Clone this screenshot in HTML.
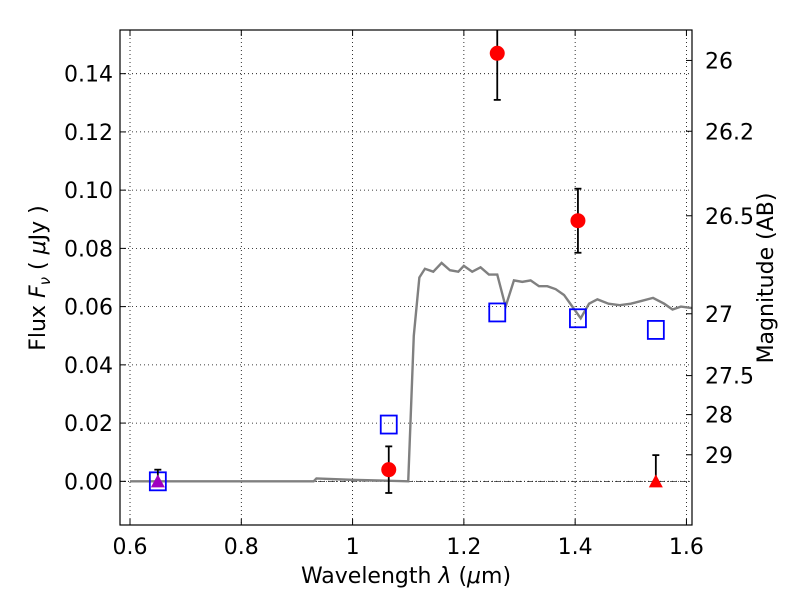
<!DOCTYPE html>
<html><head><meta charset="utf-8"><style>
body{margin:0;background:#fff;}
svg text{font-family:"DejaVu Sans","Liberation Sans",sans-serif;}
</style></head><body>
<svg id="chart" width="800" height="600" xmlns="http://www.w3.org/2000/svg">
<defs><clipPath id="pc"><rect x="120" y="30" width="572" height="495"/></clipPath></defs>
<g id="grid"></g>
<g id="marks" clip-path="url(#pc)"></g>
<rect x="120" y="30" width="572" height="495" fill="none" stroke="#000" stroke-width="1.2"/>
<g id="axes"></g>
<text x="406" y="583" font-size="22" text-anchor="middle">Wavelength  <tspan font-style="italic">λ</tspan> (<tspan font-style="italic">μ</tspan>m)</text>
<text transform="translate(45,278) rotate(-90)" font-size="22" text-anchor="middle">Flux  <tspan font-style="italic">F</tspan><tspan font-style="italic" font-size="15" dy="5">ν</tspan><tspan dy="-5">  ( </tspan><tspan font-style="italic">μ</tspan>Jy )</text>
<text transform="translate(773,278) rotate(-90)" font-size="22" text-anchor="middle">Magnitude (AB)</text>
</svg>
<script>
const xTicks=[0.6,0.8,1,1.2,1.4,1.6];
const xTickLabels=["0.6","0.8","1","1.2","1.4","1.6"];
const yTicks=[0,0.02,0.04,0.06,0.08,0.10,0.12,0.14];
const yTickLabels=["0.00","0.02","0.04","0.06","0.08","0.10","0.12","0.14"];
const magTicks=[26,26.2,26.5,27,27.5,28,29];
const magLabels=["26","26.2","26.5","27","27.5","28","29"];
const modelWave=[0.6,0.93,0.935,1.0,1.1,1.11,1.12,1.13,1.145,1.16,1.175,1.19,1.2,1.215,1.23,1.245,1.26,1.275,1.29,1.305,1.32,1.335,1.35,1.365,1.38,1.395,1.41,1.425,1.44,1.46,1.48,1.5,1.52,1.54,1.56,1.575,1.59,1.61];
const modelFlux=[0,0,0.001,0.0005,0,0.05,0.07,0.073,0.072,0.075,0.0725,0.072,0.074,0.072,0.0735,0.071,0.071,0.060,0.069,0.0685,0.069,0.067,0.067,0.066,0.064,0.060,0.056,0.061,0.0625,0.061,0.0605,0.061,0.062,0.063,0.061,0.059,0.060,0.0595];
const obsWave=[1.065,1.26,1.405];
const obsFlux=[0.004,0.147,0.0895];
const obsErr=[0.008,0.016,0.011];
const limWave=[0.65,1.545];
const limFlux=[0,0];
const limErr=[0.004,0.009];
const limColor=["#a000c0","#ff0000"];
const synWave=[0.65,1.065,1.26,1.405,1.545];
const synFlux=[0,0.0195,0.058,0.056,0.052];

const X0=120,X1=692,Y0=525,Y1=30,xmin=0.582,xmax=1.61,ymin=-0.015,ymax=0.155;
const sx=v=>X0+(v-xmin)/(xmax-xmin)*(X1-X0);
const sy=v=>Y0-(v-ymin)/(ymax-ymin)*(Y0-Y1);
const NS="http://www.w3.org/2000/svg";
function mk(p,t,a){const e=document.createElementNS(NS,t);for(const k in a)e.setAttribute(k,a[k]);p.appendChild(e);return e;}
const grid=document.getElementById('grid'),axes=document.getElementById('axes'),marks=document.getElementById('marks');
xTicks.forEach((v,i)=>{const x=sx(v);
 let g=mk(grid,'line',{x1:x,x2:x,y1:Y1,y2:Y0,stroke:'#000','stroke-dasharray':'1,3','stroke-width':0.8});
 
 mk(axes,'line',{x1:x,x2:x,y1:Y0,y2:Y0-6,stroke:'#000'});mk(axes,'line',{x1:x,x2:x,y1:Y1,y2:Y1+6,stroke:'#000'});
 const t=mk(axes,'text',{x:x,y:Y0+29,'font-size':22,'text-anchor':'middle'});t.textContent=xTickLabels[i];
 });
yTicks.forEach((v,i)=>{const y=sy(v);
 let g=mk(grid,'line',{x1:X0,x2:X1,y1:y,y2:y,stroke:'#000','stroke-dasharray':'1,3','stroke-width':0.8});
 
 mk(axes,'line',{x1:X0,x2:X0+6,y1:y,y2:y,stroke:'#000'});
 const t=mk(axes,'text',{x:X0-7,y:y+8,'font-size':22,'text-anchor':'end'});t.textContent=yTickLabels[i];
 });
magTicks.forEach((m,i)=>{const y=sy(Math.pow(10,(23.9-m)/2.5));
 mk(axes,'line',{x1:X1,x2:X1-6,y1:y,y2:y,stroke:'#000'});
 const t=mk(axes,'text',{x:X1+13,y:y+8,'font-size':22});t.textContent=magLabels[i];
 });
let zl=mk(marks,'line',{x1:X0,x2:X1,y1:sy(0),y2:sy(0),stroke:'#000','stroke-width':0.6,'stroke-dasharray':'6,2,1,2'});

let pl=mk(marks,'polyline',{points:modelWave.map((w,i)=>sx(w)+','+sy(modelFlux[i])).join(' '),fill:'none',stroke:'#808080','stroke-width':2.4});

synWave.forEach((w,i)=>{const x=sx(w),y=sy(synFlux[i]);
 const r=mk(marks,'rect',{x:x-8,y:y-9,width:16,height:18,fill:'none',stroke:'#0000ff','stroke-width':1.8});
 });
obsWave.forEach((w,i)=>{const x=sx(w);
 mk(marks,'line',{x1:x,x2:x,y1:sy(obsFlux[i]-obsErr[i]),y2:sy(obsFlux[i]+obsErr[i]),stroke:'#000','stroke-width':1.8});
 [-1,1].forEach(s=>mk(marks,'line',{x1:x-3.5,x2:x+3.5,y1:sy(obsFlux[i]+s*obsErr[i]),y2:sy(obsFlux[i]+s*obsErr[i]),stroke:'#000','stroke-width':1.8}));
 const c=mk(marks,'circle',{cx:x,cy:sy(obsFlux[i]),r:7.5,fill:'#ff0000'});
 });
limWave.forEach((w,i)=>{const x=sx(w),y=sy(limFlux[i]);
 mk(marks,'line',{x1:x,x2:x,y1:y,y2:sy(limFlux[i]+limErr[i]),stroke:'#000','stroke-width':1.8});
 mk(marks,'line',{x1:x-3.5,x2:x+3.5,y1:sy(limFlux[i]+limErr[i]),y2:sy(limFlux[i]+limErr[i]),stroke:'#000','stroke-width':1.8});
 const t=mk(marks,'polygon',{points:`${x},${y-7} ${x-7},${y+6} ${x+7},${y+6}`,fill:limColor[i]});
 });
</script>
</body></html>
